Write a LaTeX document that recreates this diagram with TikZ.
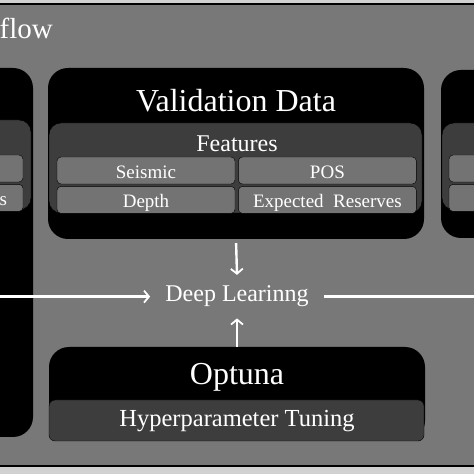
\documentclass[tikz,border=0pt]{standalone}
\usepackage{fontspec}
\setmainfont{Liberation Serif}
\usepackage{tikz}
\usetikzlibrary{arrows.meta, positioning}

\definecolor{bggrey}{gray}{0.47}
\definecolor{edgegrey}{gray}{0.82}
\definecolor{panelgrey}{gray}{0.24}
\definecolor{cellgrey}{gray}{0.45}

\tikzset{
  databox/.style={fill=black, rounded corners=20pt, inner sep=0pt},
  featpanel/.style={fill=panelgrey, draw=black, rounded corners=12pt, inner sep=0pt},
  celltext/.style={text=white, inner sep=0pt, text height=18pt, text depth=2pt,
    font=\fontsize{19}{22}\selectfont},
  featcell/.style={celltext, fill=cellgrey, draw=black, rounded corners=4pt,
    minimum width=178pt, minimum height=27pt},
  bigtitle/.style={text=white, inner sep=0pt, font=\fontsize{32}{38}\selectfont},
  midtitle/.style={text=white, inner sep=0pt, font=\fontsize{24}{29}\selectfont},
  flowline/.style={draw=white, line width=2.4pt},
  flowarrow/.style={flowline, -{Straight Barb[length=5pt, width=12pt, line width=1.8pt]}},
}

\begin{document}
\begin{tikzpicture}[x=1pt, y=1pt]
        \useasboundingbox (0,0) rectangle (474,474);
        \clip (0,0) rectangle (474,474);
        \fill[edgegrey] (0,0) rectangle (474,474);
        \fill[bggrey] (-5,8) rectangle (480,470);
        \draw[line width=1.2pt] (-5,8) -- (480,8) (-5,470) -- (480,470);

        \node (flow) [text=white, anchor=base east, inner sep=0pt,
          font=\fontsize{29}{35}\selectfont] at (53,435) {flow};

        %% training data (cut off on the left)
        \node (trainbox) [databox, minimum width=200pt, minimum height=369pt] at (-67,221.5) {};
        \node (trainfeat) [featpanel, minimum width=200pt, minimum height=90pt] at (-69,309) {};
        \node (trainup) [featcell] at (-66,305.5) {};
        \node (traindown) [featcell, below=2pt of trainup] {};
        \node (trainres) [celltext, left=16pt of traindown.east] {s};

        %% validation data
        \node (valbox) [databox, minimum width=376pt, minimum height=171pt] at (236,320.5) {};
        \node (valtitle) [bigtitle, anchor=base] at (236,362) {Validation Data};
        \node (valfeat) [featpanel, minimum width=373pt, minimum height=90pt] at (235.5,306) {};
        \node (feattitle) [midtitle, anchor=base] at (237,322) {Features};
        \node (seismic) [featcell] at (146,303.5) {Seismic};
        \node (pos) [featcell, right=3pt of seismic] {POS};
        \node (depth) [featcell, below=2pt of seismic] {Depth};
        \node (reserves) [featcell, below=2pt of pos] {Expected\ \ Reserves};

        %% test data (cut off on the right)
        \node (testbox) [databox, minimum width=200pt, minimum height=168pt] at (541,320) {};
        \node (testfeat) [featpanel, minimum width=200pt, minimum height=87pt] at (542,307.5) {};
        \node (testup) [featcell] at (538,305.5) {};
        \node (testdown) [featcell, below=2pt of testup] {};

        %% optuna
        \node (optbox) [databox, minimum width=376pt, minimum height=94pt] at (237,80) {};
        \node (optpanel) [featpanel, rounded corners=6pt, minimum width=375pt, minimum height=41pt] at (236.5,53.5) {};
        \node (opttitle) [bigtitle, anchor=base] at (237,89) {Optuna};
        \node (tuning) [midtitle, anchor=base, font=\fontsize{24.5}{29}\selectfont] at (237,47) {Hyperparameter Tuning};

        \node (deep) [midtitle, anchor=base, inner xsep=15pt, inner ysep=11pt] at (237,172) {Deep Learinng};

        \draw[flowarrow, shorten <=4pt] (valbox.south) -- (deep.north);
        \draw[flowarrow] (optbox.north) -- (deep.south);
        \draw[flowarrow] (trainbox.center |- deep.west) -- (deep.west);
        \draw[flowline] (deep.east) -- (deep.east -| testbox.center);
      \end{tikzpicture}
\end{document}
